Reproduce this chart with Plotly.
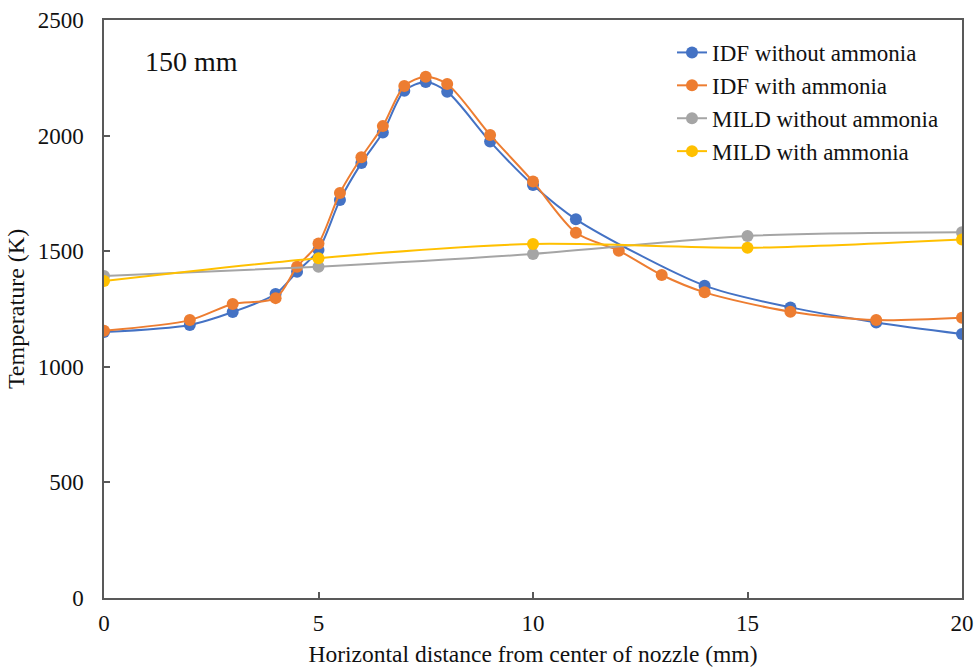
import plotly.graph_objects as go

# Data
idf_wo_x = [0, 2, 3, 4, 4.5, 5, 5.5, 6, 6.5, 7, 7.5, 8, 9, 10, 11, 14, 16, 18, 20]
idf_wo_y = [1150, 1181, 1237, 1315, 1411, 1505, 1721, 1881, 2013, 2194, 2232, 2190, 1974, 1786, 1638, 1351, 1257, 1192, 1142]

idf_w_x = [0, 2, 3, 4, 4.5, 5, 5.5, 6, 6.5, 7, 7.5, 8, 9, 10, 11, 12, 13, 14, 16, 18, 20]
idf_w_y = [1156, 1202, 1272, 1297, 1433, 1533, 1752, 1906, 2041, 2215, 2255, 2223, 2003, 1801, 1580, 1502, 1397, 1322, 1238, 1202, 1212]

mild_wo_x = [0, 5, 10, 15, 20]
mild_wo_y = [1393, 1433, 1488, 1566, 1582]

mild_w_x = [0, 5, 10, 15, 20]
mild_w_y = [1371, 1470, 1531, 1515, 1551]

series = [
    ("IDF without ammonia", idf_wo_x, idf_wo_y, "#4472C4"),
    ("IDF with ammonia", idf_w_x, idf_w_y, "#ED7D31"),
    ("MILD without ammonia", mild_wo_x, mild_wo_y, "#A5A5A5"),
    ("MILD with ammonia", mild_w_x, mild_w_y, "#FFC000"),
]

FONT = "Liberation Serif, Times New Roman, serif"

fig = go.Figure()
for name, xs, ys, col in series:
    fig.add_trace(go.Scatter(
        x=xs, y=ys, name=name, mode="lines+markers",
        line=dict(color=col, width=2, shape="spline", smoothing=0.8),
        marker=dict(color=col, size=12),
    ))

fig.add_annotation(
    x=0.046, y=0.929, xref="paper", yref="paper", text="150 mm",
    showarrow=False, xanchor="left", yanchor="middle",
    font=dict(family=FONT, size=28, color="#111111"),
)

axis_common = dict(
    showline=True, linecolor="#595959", linewidth=1.5, mirror=True,
    showgrid=False, zeroline=False, automargin=False,
    ticks="inside", ticklen=6, tickcolor="#595959", tickwidth=1.5,
    tickfont=dict(family=FONT, size=23, color="#111111"),
)

fig.update_layout(
    width=977, height=672,
    margin=dict(l=104, r=15, t=20, b=74),
    paper_bgcolor="white", plot_bgcolor="white",
    font=dict(family=FONT, color="#111111"),
    xaxis=dict(range=[0, 20], tickvals=[0, 5, 10, 15, 20],
               title=dict(text="Horizontal distance from center of nozzle (mm)",
                          font=dict(family=FONT, size=23.5), standoff=10),
               ticklabelstandoff=4, **axis_common),
    yaxis=dict(range=[0, 2500], tickvals=[0, 500, 1000, 1500, 2000, 2500],
               title=dict(text="Temperature (K)", font=dict(family=FONT, size=24), standoff=6),
               ticklabelstandoff=14, **axis_common),
    legend=dict(x=0.662, y=0.981, xanchor="left", yanchor="top",
                font=dict(family=FONT, size=23, color="#111111"),
                bgcolor="rgba(255,255,255,0)", itemwidth=30, tracegroupgap=0),
    showlegend=True,
)

fig.write_html("out.html")
